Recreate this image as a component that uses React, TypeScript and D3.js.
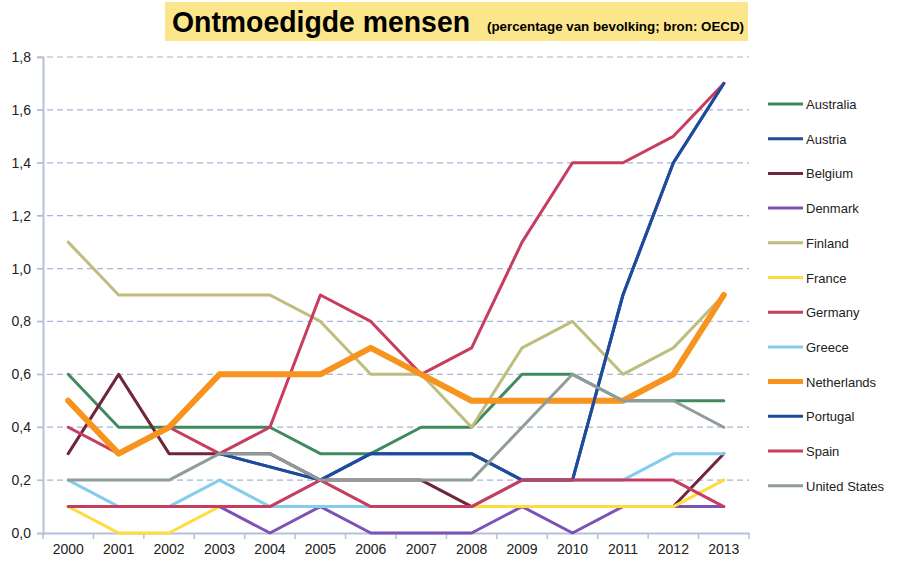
import { useEffect, useRef } from 'react';
import * as d3 from 'd3';

const years = ['2000', '2001', '2002', '2003', '2004', '2005', '2006', '2007', '2008', '2009', '2010', '2011', '2012', '2013'];
const yTicks = [0, 0.2, 0.4, 0.6, 0.8, 1.0, 1.2, 1.4, 1.6, 1.8];

const australia = [0.6, 0.4, 0.4, 0.4, 0.4, 0.3, 0.3, 0.4, 0.4, 0.6, 0.6, 0.5, 0.5, 0.5];
const austria = [null, null, null, 0.3, 0.25, 0.2, 0.3, 0.3, 0.3, 0.2, 0.2, 0.9, 1.4, 1.7];
const belgium = [0.3, 0.6, 0.3, 0.3, 0.3, 0.2, 0.2, 0.2, 0.1, 0.1, 0.1, 0.1, 0.1, 0.3];
const denmark = [0.1, 0.1, 0.1, 0.1, 0, 0.1, 0, 0, 0, 0.1, 0, 0.1, 0.1, 0.1];
const finland = [1.1, 0.9, 0.9, 0.9, 0.9, 0.8, 0.6, 0.6, 0.4, 0.7, 0.8, 0.6, 0.7, 0.9];
const france = [0.1, 0, 0, 0.1, 0.1, 0.1, 0.1, 0.1, 0.1, 0.1, 0.1, 0.1, 0.1, 0.2];
const germany = [0.4, 0.3, 0.4, 0.3, 0.4, 0.9, 0.8, 0.6, 0.7, 1.1, 1.4, 1.4, 1.5, 1.7];
const greece = [0.2, 0.1, 0.1, 0.2, 0.1, 0.1, 0.1, 0.1, 0.1, 0.2, 0.2, 0.2, 0.3, 0.3];
const netherlands = [0.5, 0.3, 0.4, 0.6, 0.6, 0.6, 0.7, 0.6, 0.5, 0.5, 0.5, 0.5, 0.6, 0.9];
const portugal = [null, null, null, 0.3, 0.25, 0.2, 0.3, 0.3, 0.3, 0.2, 0.2, 0.9, 1.4, 1.7];
const spain = [0.1, 0.1, 0.1, 0.1, 0.1, 0.2, 0.1, 0.1, 0.1, 0.2, 0.2, 0.2, 0.2, 0.1];
const unitedStates = [0.2, 0.2, 0.2, 0.3, 0.3, 0.2, 0.2, 0.2, 0.2, 0.4, 0.6, 0.5, 0.5, 0.4];

const series = [
  { name: 'Australia', values: australia, color: '#3f8a5f', width: 3 },
  { name: 'Austria', values: austria, color: '#1f4b9c', width: 3 },
  { name: 'Belgium', values: belgium, color: '#6e2638', width: 3 },
  { name: 'Denmark', values: denmark, color: '#7b52b5', width: 3 },
  { name: 'Finland', values: finland, color: '#bfbd7e', width: 3 },
  { name: 'France', values: france, color: '#ffdc3c', width: 3 },
  { name: 'Germany', values: germany, color: '#c63d5f', width: 3 },
  { name: 'Greece', values: greece, color: '#84cdec', width: 3 },
  { name: 'Netherlands', values: netherlands, color: '#f7941e', width: 6 },
  { name: 'Portugal', values: portugal, color: '#1f4b9c', width: 3 },
  { name: 'Spain', values: spain, color: '#c63d5f', width: 3 },
  { name: 'United States', values: unitedStates, color: '#8e9d99', width: 3 },
];

export default function App() {
  const svgRef = useRef<SVGSVGElement>(null);

  useEffect(() => {
    if (!svgRef.current) return;
    const svg = d3.select(svgRef.current);
    svg.selectAll('*').remove();

    const font = '"Liberation Sans", Arial, sans-serif';
    const left = 43, right = 749, top = 57, bottom = 533;

    // title box
    svg.append('rect')
      .attr('x', 165).attr('y', 2).attr('width', 583).attr('height', 39)
      .attr('fill', '#fbe68c');
    svg.append('text')
      .attr('x', 172).attr('y', 32)
      .attr('font-family', font).attr('font-weight', 'bold').attr('font-size', 30)
      .attr('textLength', 298).attr('lengthAdjust', 'spacingAndGlyphs')
      .text('Ontmoedigde mensen');
    svg.append('text')
      .attr('x', 487).attr('y', 31)
      .attr('font-family', font).attr('font-weight', 'bold').attr('font-size', 12.5)
      .attr('textLength', 257).attr('lengthAdjust', 'spacingAndGlyphs')
      .text('(percentage van bevolking;  bron: OECD)');

    const x = d3.scaleBand().domain(years).range([left, right]);
    const y = d3.scaleLinear().domain([0, 1.8]).range([bottom, top]);
    const fmt = d3.format('.1f');

    // grid
    svg.append('g')
      .selectAll('line')
      .data(yTicks.filter(t => t > 0))
      .enter()
      .append('line')
      .attr('x1', left - 6).attr('x2', right)
      .attr('y1', d => y(d)).attr('y2', d => y(d))
      .attr('stroke', '#a9b4d6').attr('stroke-width', 1.2)
      .attr('stroke-dasharray', '6,4');

    // y axis
    const yAxis = svg.append('g')
      .attr('transform', `translate(${left},0)`)
      .call(d3.axisLeft(y).tickValues(yTicks).tickSize(6).tickFormat(d => fmt(d as number).replace('.', ',')));
    yAxis.select('.domain').attr('stroke', '#b6bfdb').attr('stroke-width', 2);
    yAxis.selectAll('.tick line').attr('stroke', '#b6bfdb');
    yAxis.selectAll('text').attr('font-family', font).attr('font-size', 14).attr('fill', '#222').attr('x', -12);

    // x axis
    const xAxis = svg.append('g')
      .attr('transform', `translate(0,${bottom})`)
      .call(d3.axisBottom(x).tickSize(0).tickSizeOuter(0));
    xAxis.select('.domain').attr('stroke', '#b6bfdb').attr('stroke-width', 2);
    xAxis.selectAll('text').attr('font-family', font).attr('font-size', 14).attr('fill', '#222').attr('dy', '1.3em');
    svg.append('g')
      .selectAll('line')
      .data([...years.map(yr => x(yr) as number), right])
      .enter()
      .append('line')
      .attr('x1', d => d).attr('x2', d => d)
      .attr('y1', bottom).attr('y2', bottom + 6)
      .attr('stroke', '#b6bfdb').attr('stroke-width', 1.5);

    // lines
    const line = d3.line<number | null>()
      .defined(d => d !== null)
      .x((_, i) => (x(years[i]) as number) + x.bandwidth() / 2)
      .y(d => y(d as number));

    series.forEach(s => {
      svg.append('path')
        .datum(s.values)
        .attr('fill', 'none')
        .attr('stroke', s.color)
        .attr('stroke-width', s.width)
        .attr('stroke-linejoin', 'round')
        .attr('stroke-linecap', 'round')
        .attr('d', line);
    });

    // legend
    const legend = svg.append('g');
    series.forEach((s, i) => {
      const ly = 104 + i * 34.7;
      legend.append('line')
        .attr('x1', 768).attr('x2', 803)
        .attr('y1', ly).attr('y2', ly)
        .attr('stroke', s.color).attr('stroke-width', s.width === 6 ? 5 : 3);
      legend.append('text')
        .attr('x', 806).attr('y', ly + 5)
        .attr('font-family', font).attr('font-size', 13).attr('fill', '#222')
        .text(s.name);
    });
  }, []);

  return (
    <svg
      ref={svgRef}
      width={901}
      height={563}
      style={{ position: 'absolute', left: 0, top: 0, background: '#fff' }}
    />
  );
}
